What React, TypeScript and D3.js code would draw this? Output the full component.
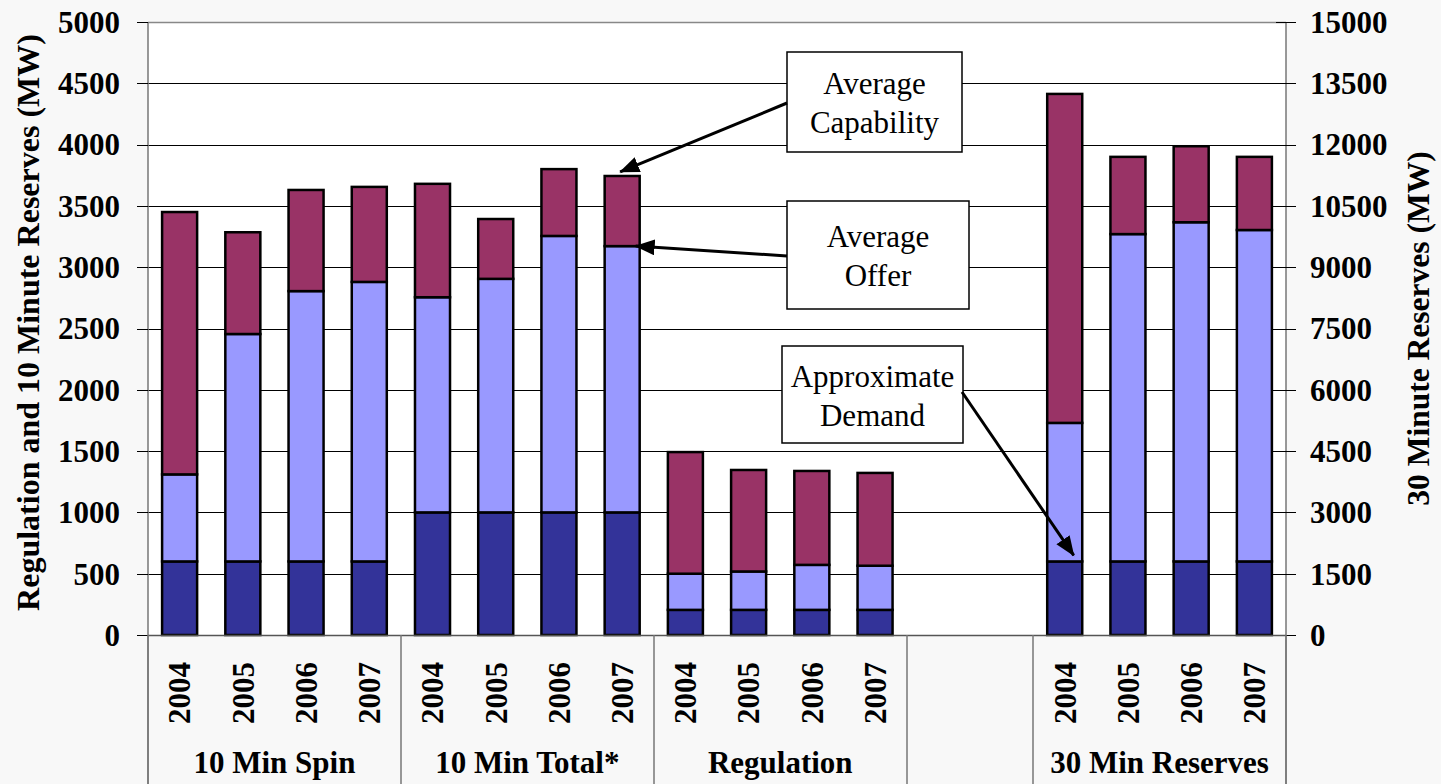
import React from "react";
import * as d3 from "d3";

// ---------- data ----------
const years = ["2004", "2005", "2006", "2007"];
const groupNames = ["10 Min Spin", "10 Min Total*", "Regulation", "30 Min Reserves"];
const groupAxis = ["left", "left", "left", "right"];

const spinDemand = [600, 600, 600, 600];
const spinOffer = [1310, 2455, 2805, 2880];
const spinCapability = [3450, 3285, 3630, 3655];

const totalDemand = [1000, 1000, 1000, 1000];
const totalOffer = [2755, 2905, 3255, 3172];
const totalCapability = [3680, 3393, 3800, 3744];

const regDemand = [205, 205, 205, 205];
const regOffer = [500, 518, 572, 565];
const regCapability = [1492, 1346, 1338, 1322];

const res30Demand = [1800, 1800, 1800, 1800];
const res30Offer = [5190, 9810, 10100, 9910];
const res30Capability = [13240, 11700, 11960, 11700];

const demandSeries = [spinDemand, totalDemand, regDemand, res30Demand];
const offerSeries = [spinOffer, totalOffer, regOffer, res30Offer];
const capabilitySeries = [spinCapability, totalCapability, regCapability, res30Capability];

const leftTicks = [0, 500, 1000, 1500, 2000, 2500, 3000, 3500, 4000, 4500, 5000];
const rightTicks = [0, 1500, 3000, 4500, 6000, 7500, 9000, 10500, 12000, 13500, 15000];

const seriesNames = ["Approximate Demand", "Average Offer", "Average Capability"];
const seriesColors = ["#333399", "#9999FF", "#993366"];

const leftTitle = "Regulation and 10 Minute Reserves (MW)";
const rightTitle = "30 Minute Reserves (MW)";

// ---------- layout ----------
const W = 1441;
const H = 784;
const M = { left: 148, right: 1286, top: 22, bottom: 635 };
const FONT = "'Liberation Serif', 'Times New Roman', Times, serif";

// slot domain: 3 groups, two empty slots, last group
const slotKeys: string[] = [];
groupNames.forEach((g, gi) => {
  if (gi === 3) {
    slotKeys.push("gap-a", "gap-b");
  }
  years.forEach((y) => slotKeys.push(g + "|" + y));
});

const x = d3
  .scaleBand<string>()
  .domain(slotKeys)
  .range([M.left, M.right])
  .paddingInner(0.446)
  .paddingOuter(0.223);

const yL = d3.scaleLinear().domain([0, 5000]).range([M.bottom, M.top]);
const yR = d3.scaleLinear().domain([0, 15000]).range([M.bottom, M.top]);

const step = x.step();
const slotLeft = (k: string) => (x(k) as number) - (step - x.bandwidth()) / 2;

export default function App() {
  const bars: React.ReactNode[] = [];
  groupNames.forEach((g, gi) => {
    const y = groupAxis[gi] === "left" ? yL : yR;
    years.forEach((yr, i) => {
      const k = g + "|" + yr;
      const x0 = x(k) as number;
      const vals = [demandSeries[gi][i], offerSeries[gi][i], capabilitySeries[gi][i]];
      let prev = 0;
      vals.forEach((v, si) => {
        bars.push(
          <rect
            key={k + si}
            x={x0}
            width={x.bandwidth()}
            y={y(v)}
            height={y(prev) - y(v)}
            fill={seriesColors[si]}
            stroke="#000"
            strokeWidth={2.5}
          />
        );
        prev = v;
      });
    });
  });

  // group separators below plot
  const separators: number[] = [M.left];
  groupNames.forEach((g, gi) => {
    if (gi > 0) separators.push(slotLeft(g + "|" + years[0]));
    if (gi === 2) separators.push(slotLeft("gap-a"));
  });
  separators.push(M.right);
  const sepUnique = Array.from(new Set(separators.map((v) => Math.round(v))));

  // annotation anchor points from data
  const capKey = groupNames[1] + "|2007";
  const capTip = [(x(capKey) as number) + x.bandwidth() / 2 - 2, yL(totalCapability[3]) - 4];
  const offTip = [(x(capKey) as number) + x.bandwidth() - 4, yL(totalOffer[3])];
  const demKey = groupNames[3] + "|2004";
  const demTip = [(x(demKey) as number) + x.bandwidth() / 2 + 9, yR(res30Demand[0]) - 6];

  const boxes = [
    { x: 787, y: 52, w: 175, h: 100, lines: ["Average", "Capability"], from: [787, 103], to: capTip },
    { x: 787, y: 201, w: 182, h: 108, lines: ["Average", "Offer"], from: [787, 256], to: offTip },
    { x: 782, y: 346, w: 181, h: 97, lines: ["Approximate", "Demand"], from: [962, 392], to: demTip },
  ];

  return (
    <svg
      width={W}
      height={H}
      style={{ position: "absolute", left: 0, top: 0, background: "#f8f8f8" }}
      fontFamily={FONT}
    >
      <defs>
        <marker
          id="arrow"
          markerUnits="userSpaceOnUse"
          markerWidth={22}
          markerHeight={18}
          refX={19}
          refY={8}
          orient="auto"
        >
          <path d="M0,0 L20,8 L0,16 Z" fill="#000" />
        </marker>
      </defs>
      <rect x={0} y={0} width={W} height={H} fill="#f8f8f8" />
      <rect x={M.left} y={M.top} width={M.right - M.left} height={M.bottom - M.top} fill="#fff" />

      {/* gridlines */}
      {leftTicks.map((t) => (
        <line
          key={"g" + t}
          x1={M.left}
          x2={M.right}
          y1={Math.round(yL(t)) + 0.5}
          y2={Math.round(yL(t)) + 0.5}
          stroke={t === 5000 ? "#888" : "#000"}
          strokeWidth={t === 5000 ? 1.5 : 1}
        />
      ))}

      {/* left axis */}
      <line x1={M.left} x2={M.left} y1={M.top} y2={H} stroke="#777" strokeWidth={1.5} />
      {leftTicks.map((t) => (
        <g key={"lt" + t}>
          <line x1={137} x2={M.left} y1={Math.round(yL(t)) + 0.5} y2={Math.round(yL(t)) + 0.5} stroke="#000" />
          <text
            x={120}
            y={yL(t)}
            dy="0.35em"
            textAnchor="end"
            fontSize={31}
            fontWeight="bold"
            fill="#000"
          >
            {t}
          </text>
        </g>
      ))}

      {/* right axis */}
      <line x1={M.right} x2={M.right} y1={M.top} y2={H} stroke="#777" strokeWidth={1.5} />
      {rightTicks.map((t) => (
        <g key={"rt" + t}>
          <line x1={1276} x2={1296} y1={Math.round(yR(t)) + 0.5} y2={Math.round(yR(t)) + 0.5} stroke="#000" />
          <text x={1310} y={yR(t)} dy="0.35em" textAnchor="start" fontSize={31} fontWeight="bold" fill="#000">
            {t}
          </text>
        </g>
      ))}

      {/* bars */}
      {bars}

      {/* bottom axis */}
      <line x1={M.left} x2={M.right} y1={M.bottom + 0.5} y2={M.bottom + 0.5} stroke="#555" strokeWidth={1.5} />
      {sepUnique.map((sx) => (
        <line key={"s" + sx} x1={sx} x2={sx} y1={M.bottom} y2={H} stroke="#777" strokeWidth={1.5} />
      ))}
      {groupNames.map((g) =>
        years.map((yr) => {
          const cx = (x(g + "|" + yr) as number) + x.bandwidth() / 2;
          return (
            <text
              key={g + yr + "l"}
              transform={`translate(${cx},662) rotate(-90)`}
              dy="0.35em"
              textAnchor="end"
              fontSize={31}
              fontWeight="bold"
              fill="#000"
            >
              {yr}
            </text>
          );
        })
      )}
      {groupNames.map((g) => {
        const a = slotLeft(g + "|" + years[0]);
        const b = slotLeft(g + "|" + years[3]) + step;
        return (
          <text key={g + "gl"} x={(a + b) / 2} y={773} textAnchor="middle" fontSize={31} fontWeight="bold" fill="#000">
            {g}
          </text>
        );
      })}

      {/* axis titles */}
      <text
        transform={`translate(28,${(M.top + M.bottom) / 2 - 6}) rotate(-90)`}
        dy="0.35em"
        textAnchor="middle"
        fontSize={32}
        fontWeight="bold"
        fill="#000"
      >
        {leftTitle}
      </text>
      <text
        transform={`translate(1418,${(M.top + M.bottom) / 2}) rotate(-90)`}
        dy="0.35em"
        textAnchor="middle"
        fontSize={31.5}
        fontWeight="bold"
        fill="#000"
      >
        {rightTitle}
      </text>

      {/* annotations */}
      {boxes.map((b, i) => (
        <g key={"box" + i}>
          <rect x={b.x} y={b.y} width={b.w} height={b.h} fill="#fff" stroke="#000" strokeWidth={1.5} />
          {b.lines.map((ln, j) => (
            <text
              key={j}
              x={b.x + b.w / 2}
              y={b.y + b.h / 2 - 8 + j * 39}
              textAnchor="middle"
              fontSize={31}
              fill="#000"
            >
              {ln}
            </text>
          ))}
          <line
            x1={b.from[0]}
            y1={b.from[1]}
            x2={b.to[0]}
            y2={b.to[1]}
            stroke="#000"
            strokeWidth={3}
            markerEnd="url(#arrow)"
          />
        </g>
      ))}
      <title>{seriesNames.join(", ")}</title>
    </svg>
  );
}
